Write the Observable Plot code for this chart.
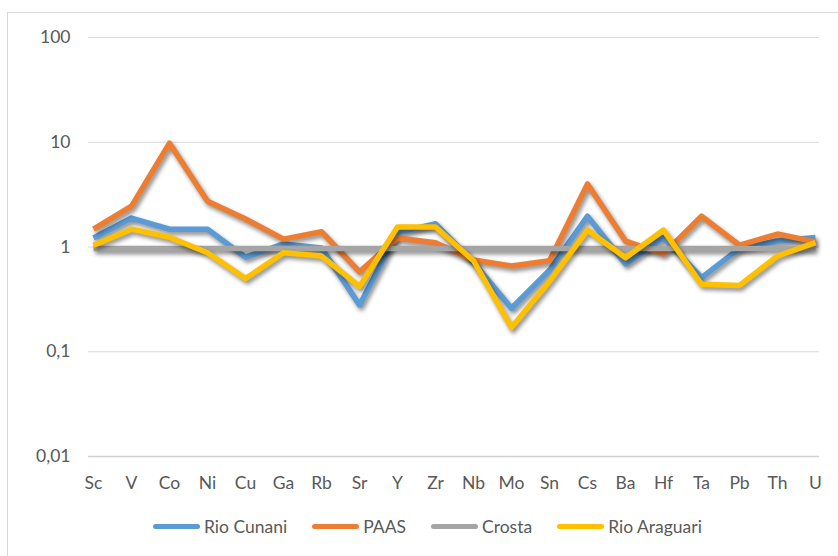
<!DOCTYPE html>
<html>
<head>
<meta charset="utf-8">
<script src="https://cdn.jsdelivr.net/npm/d3@7"></script>
<script src="https://cdn.jsdelivr.net/npm/@observablehq/plot@0.6"></script>
<style>
  html, body { margin: 0; padding: 0; background: #fff; }
  #wrap { position: relative; width: 838px; height: 556px; overflow: hidden; background: #fff; font-family: Lato, "Open Sans", sans-serif; }
  #frame { position: absolute; left: 7px; top: 12px; width: 900px; height: 600px; border-left: 1.5px solid #d9d9d9; border-top: 1.5px solid #d9d9d9; }
  #chart { position: absolute; left: 0; top: 0; }
  #chart g[aria-label="line"] { filter: drop-shadow(2px 3px 2px rgba(0,0,0,0.45)); }
  #legend { position: absolute; left: 153px; top: 516px; display: flex; align-items: center; font-size: 17.5px; color: #595959; white-space: nowrap; }
  .item { display: flex; align-items: center; margin-right: 25px; }
  .sw { width: 47px; height: 5px; border-radius: 3px; margin-right: 4px; }
</style>
</head>
<body>
<div id="wrap">
  <div id="frame"></div>
  <div id="chart"></div>
  <div id="legend"></div>
</div>
<script>
const categories = ["Sc","V","Co","Ni","Cu","Ga","Rb","Sr","Y","Zr","Nb","Mo","Sn","Cs","Ba","Hf","Ta","Pb","Th","U"];
const rioCunani   = [1.22,1.89,1.48,1.48,0.80,1.07,0.98,0.28,1.37,1.67,0.71,0.26,0.60,1.97,0.69,1.23,0.51,0.97,1.14,1.23];
const paas        = [1.48,2.46,9.8,2.74,1.85,1.19,1.40,0.58,1.22,1.10,0.75,0.66,0.74,4.0,1.14,0.86,1.97,1.04,1.33,1.12];
const crosta      = [0.97,0.97,0.97,0.97,0.97,0.97,0.97,0.97,0.97,0.97,0.97,0.97,0.97,0.97,0.97,0.97,0.97,0.97,0.97,0.97];
const rioAraguari = [1.04,1.48,1.24,0.88,0.50,0.88,0.82,0.42,1.55,1.55,0.74,0.17,0.47,1.45,0.79,1.45,0.44,0.43,0.82,1.10];

const seriesNames = ["Rio Cunani","PAAS","Crosta","Rio Araguari"];
const seriesValues = [rioCunani, paas, crosta, rioAraguari];
const seriesColors = ["#5B9BD5","#ED7D31","#A5A5A5","#FFC000"];

const yTicks = [0.01, 0.1, 1, 10, 100];
const yTickLabels = ["0,01","0,1","1","10","100"];

const rows = [];
seriesNames.forEach((name, s) => {
  categories.forEach((c, i) => rows.push({series: name, element: c, value: seriesValues[s][i]}));
});

const lineMarks = seriesNames.map((name, s) =>
  Plot.line(rows.filter(r => r.series === name), {
    x: "element", y: "value",
    stroke: seriesColors[s], strokeWidth: 5.5,
    strokeLinejoin: "round", strokeLinecap: "butt"
  })
);

const chart = Plot.plot({
  width: 838,
  height: 500,
  marginTop: 37,
  marginBottom: 44,
  marginLeft: 88,
  marginRight: 19,
  style: { fontFamily: "Lato, 'Open Sans', sans-serif", fontSize: "17.5px", color: "#595959", background: "transparent" },
  x: { type: "point", domain: categories, padding: 0 },
  y: { type: "log", domain: [0.01, 100] },
  marks: [
    Plot.ruleY(yTicks.slice(1), { stroke: "#d9d9d9", strokeWidth: 1.2 }),
    Plot.ruleY([0.01], { stroke: "#d0d0d0", strokeWidth: 1.6 }),
    Plot.axisY({ ticks: yTicks, tickFormat: (d) => yTickLabels[yTicks.indexOf(d)], tickSize: 0, tickPadding: 18, label: null, fill: "#595959" }),
    Plot.axisX({ tickSize: 0, tickPadding: 20, label: null, fill: "#595959" }),
    ...lineMarks
  ]
});
document.getElementById("chart").appendChild(chart);

const legend = document.getElementById("legend");
seriesNames.forEach((name, s) => {
  const item = document.createElement("div");
  item.className = "item";
  const sw = document.createElement("div");
  sw.className = "sw";
  sw.style.background = seriesColors[s];
  const t = document.createElement("span");
  t.textContent = name;
  item.appendChild(sw);
  item.appendChild(t);
  legend.appendChild(item);
});
</script>
</body>
</html>
